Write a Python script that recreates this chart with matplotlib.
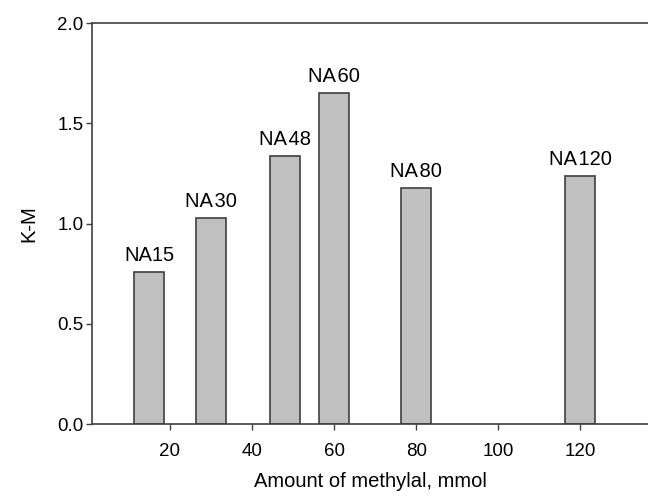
import matplotlib
matplotlib.use("Agg")
import matplotlib.pyplot as plt

# data
amounts = [15, 30, 48, 60, 80, 120]
km_values = [0.76, 1.03, 1.34, 1.65, 1.18, 1.24]
sample_names = ["NA15", "NA\u200a30", "NA\u200a48", "NA\u200a60", "NA\u200a80", "NA\u200a120"]

x_ticks = [20, 40, 60, 80, 100, 120]
y_ticks = [0.0, 0.5, 1.0, 1.5, 2.0]

plt.rcParams['font.family'] = ['Liberation Sans', 'DejaVu Sans']

fig = plt.figure(figsize=(6.48, 4.98), dpi=100)
ax = fig.add_axes([92 / 648, 1 - 424 / 498, 1 - 92 / 648, (424 - 23.3) / 498])

edge = "#404040"
ax.bar(amounts, km_values, width=7.3, color="#c0c0c0", edgecolor=edge, linewidth=1.2, zorder=2)

for x, v, name in zip(amounts, km_values, sample_names):
    ax.annotate(name, (x, v), xytext=(0, 5), textcoords="offset points",
                ha="center", va="bottom", fontsize=14.5)

ax.set_xlim(1, 136.5)
ax.set_ylim(0, 2.0)
ax.set_xticks(x_ticks)
ax.set_yticks(y_ticks)
ax.set_yticklabels([f"{t:.1f}" for t in y_ticks])

ax.spines['right'].set_visible(False)
for s in ['left', 'bottom', 'top']:
    ax.spines[s].set_color(edge)
    ax.spines[s].set_linewidth(1.2)

ax.tick_params(axis='both', direction='out', length=4.5, width=1, color=edge, labelsize=13.5)
ax.tick_params(axis='x', pad=9)
ax.tick_params(axis='y', pad=1.5)

ax.set_xlabel("Amount of methylal, mmol", fontsize=14.5, labelpad=9)
ax.set_ylabel("K-M", fontsize=14.5, labelpad=14)

fig.savefig("out.png", dpi=100)
